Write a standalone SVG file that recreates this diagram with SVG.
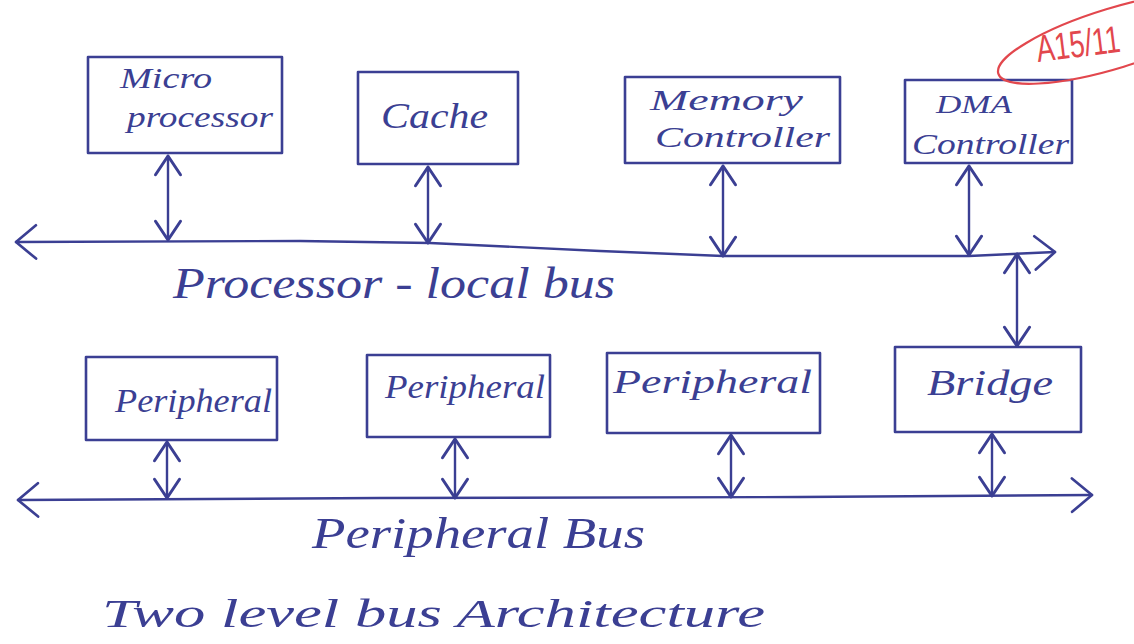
<svg xmlns="http://www.w3.org/2000/svg" width="1134" height="644" viewBox="0 0 1134 644">
  <style>
    .box { fill: none; stroke: #3b3f93; stroke-width: 2.6; stroke-linejoin: round; }
    .wire { fill: none; stroke: #3b3f93; stroke-width: 2.4; stroke-linecap: round; }
    .lbl { font-family: "Liberation Serif", "DejaVu Serif", serif; font-style: italic; fill: #3b3f93; }
    .red { fill: none; stroke: #e2474d; stroke-width: 2.2; }
    .redtxt { font-family: "Liberation Sans", "DejaVu Sans", sans-serif; fill: #e2474d; }
  </style>
  <defs>
    <!-- open V arrowheads, drawn in user units -->
    <marker id="tip" markerUnits="userSpaceOnUse" markerWidth="30" markerHeight="30" viewBox="-16 -12 20 24" refX="0" refY="0" orient="auto-start-reverse">
      <path d="M-15,-10 L0,0 L-15,10" fill="none" stroke="#3b3f93" stroke-width="2.4" stroke-linecap="round" stroke-linejoin="round"/>
    </marker>
    <marker id="bustip" markerUnits="userSpaceOnUse" markerWidth="40" markerHeight="40" viewBox="-22 -18 26 36" refX="0" refY="0" orient="auto-start-reverse">
      <path d="M-18,-15 L0,0 L-18,15" fill="none" stroke="#3b3f93" stroke-width="2.4" stroke-linecap="round" stroke-linejoin="round"/>
    </marker>
  </defs>

  <rect width="1134" height="644" fill="#ffffff"/>

  <!-- processor-side modules -->
  <g id="microprocessor">
    <rect class="box" x="88" y="57" width="194" height="96"/>
    <text class="lbl" x="120" y="88" font-size="30" textLength="92" lengthAdjust="spacingAndGlyphs">Micro</text>
    <text class="lbl" x="127" y="127" font-size="30" textLength="146" lengthAdjust="spacingAndGlyphs">processor</text>
  </g>
  <g id="cache">
    <rect class="box" x="358" y="72" width="160" height="92"/>
    <text class="lbl" x="381" y="128" font-size="36" textLength="107" lengthAdjust="spacingAndGlyphs">Cache</text>
  </g>
  <g id="memory-controller">
    <rect class="box" x="625" y="77" width="215" height="86"/>
    <text class="lbl" x="650" y="110" font-size="30" textLength="153" lengthAdjust="spacingAndGlyphs">Memory</text>
    <text class="lbl" x="655" y="147" font-size="30" textLength="175" lengthAdjust="spacingAndGlyphs">Controller</text>
  </g>
  <g id="dma-controller">
    <rect class="box" x="905" y="80" width="167" height="83"/>
    <text class="lbl" x="936" y="113" font-size="26" textLength="76" lengthAdjust="spacingAndGlyphs">DMA</text>
    <text class="lbl" x="912" y="154" font-size="30" textLength="157" lengthAdjust="spacingAndGlyphs">Controller</text>
  </g>

  <!-- peripheral-side modules -->
  <g id="peripheral-1">
    <rect class="box" x="86" y="357" width="191" height="83"/>
    <text class="lbl" x="115" y="412" font-size="34" textLength="157" lengthAdjust="spacingAndGlyphs">Peripheral</text>
  </g>
  <g id="peripheral-2">
    <rect class="box" x="367" y="355" width="183" height="82"/>
    <text class="lbl" x="385" y="398" font-size="34" textLength="160" lengthAdjust="spacingAndGlyphs">Peripheral</text>
  </g>
  <g id="peripheral-3">
    <rect class="box" x="607" y="353" width="213" height="80"/>
    <text class="lbl" x="613" y="393" font-size="34" textLength="199" lengthAdjust="spacingAndGlyphs">Peripheral</text>
  </g>
  <g id="bridge">
    <rect class="box" x="895" y="347" width="186" height="85"/>
    <text class="lbl" x="927" y="395" font-size="36" textLength="126" lengthAdjust="spacingAndGlyphs">Bridge</text>
  </g>

  <!-- buses and links -->
  <g id="connectors">
    <path class="wire" d="M16,242 L300,241 L430,243 L600,251 L723,256 L969,256 L1055,252" marker-start="url(#bustip)" marker-end="url(#bustip)"/>
    <path class="wire" d="M18,500 L380,498 L800,497 L1092,495" marker-start="url(#bustip)" marker-end="url(#bustip)"/>

    <line class="wire" x1="168" y1="156" x2="168" y2="240" marker-start="url(#tip)" marker-end="url(#tip)"/>
    <line class="wire" x1="428" y1="167" x2="428" y2="243" marker-start="url(#tip)" marker-end="url(#tip)"/>
    <line class="wire" x1="723" y1="166" x2="723" y2="256" marker-start="url(#tip)" marker-end="url(#tip)"/>
    <line class="wire" x1="969" y1="166" x2="969" y2="255" marker-start="url(#tip)" marker-end="url(#tip)"/>
    <line class="wire" x1="1017" y1="254" x2="1017" y2="346" marker-start="url(#tip)" marker-end="url(#tip)"/>

    <line class="wire" x1="167" y1="442" x2="167" y2="498" marker-start="url(#tip)" marker-end="url(#tip)"/>
    <line class="wire" x1="455" y1="439" x2="455" y2="498" marker-start="url(#tip)" marker-end="url(#tip)"/>
    <line class="wire" x1="731" y1="435" x2="731" y2="497" marker-start="url(#tip)" marker-end="url(#tip)"/>
    <line class="wire" x1="992" y1="434" x2="992" y2="496" marker-start="url(#tip)" marker-end="url(#tip)"/>
  </g>

  <!-- bus names and caption -->
  <text class="lbl" x="173" y="298" font-size="44" textLength="442" lengthAdjust="spacingAndGlyphs">Processor - local bus</text>
  <text class="lbl" x="312" y="548" font-size="44" textLength="333" lengthAdjust="spacingAndGlyphs">Peripheral Bus</text>
  <text class="lbl" x="102" y="627" font-size="40" textLength="663" lengthAdjust="spacingAndGlyphs">Two level bus Architecture</text>

  <!-- red margin mark -->
  <g id="mark">
    <ellipse class="red" cx="1115" cy="38" rx="122" ry="30" transform="rotate(-17 1115 38)"/>
    <text class="redtxt" x="1038" y="62" font-size="38" textLength="84" lengthAdjust="spacingAndGlyphs" transform="rotate(-7 1038 62)">A15/11</text>
  </g>
</svg>
